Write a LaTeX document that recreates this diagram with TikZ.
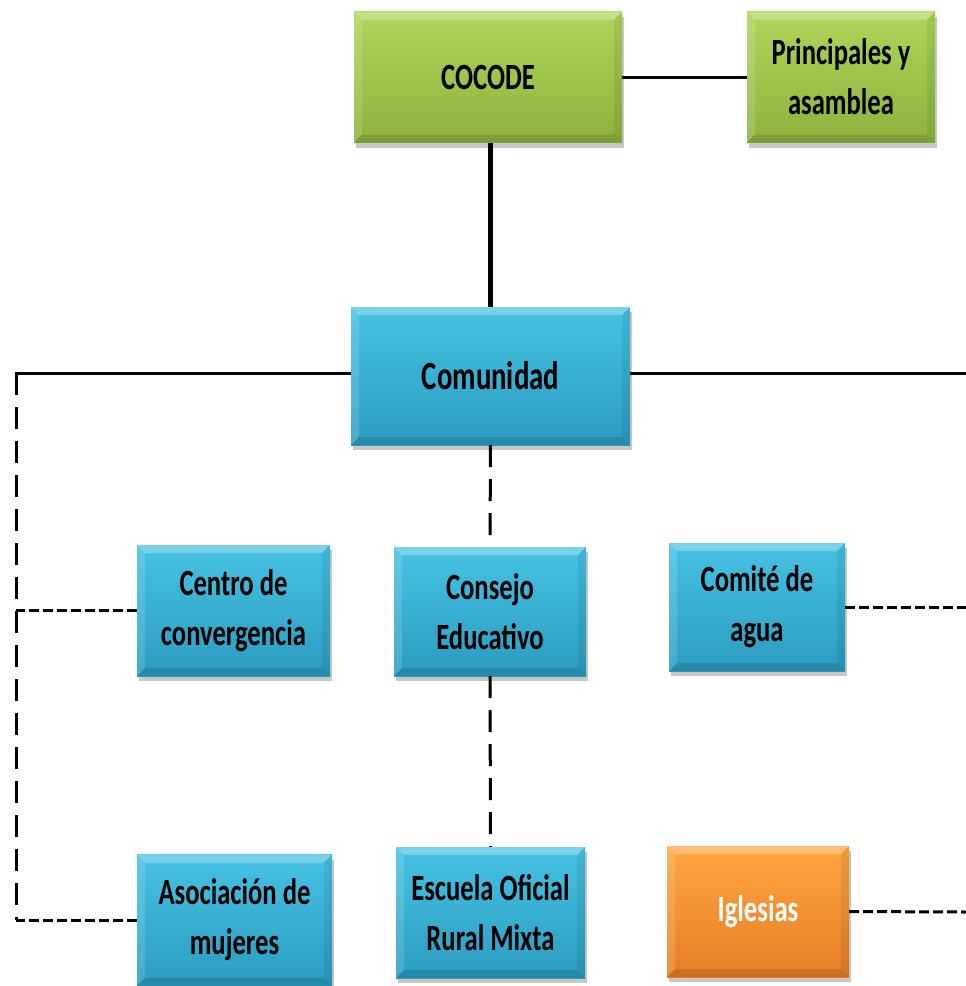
\documentclass[tikz,border=0pt]{standalone}
\usepackage{fontspec}
\setmainfont{Carlito}[FakeStretch=0.72]
\usetikzlibrary{shadows}
\definecolor{gtop}{HTML}{AED65A}
\definecolor{gbot}{HTML}{8CB23C}
\definecolor{btop}{HTML}{46C2E3}
\definecolor{bbot}{HTML}{2B9CC0}
\definecolor{otop}{HTML}{FFA640}
\definecolor{obot}{HTML}{E57E26}
\tikzset{
  x=1pt,y=1pt,
  box/.style={rectangle, align=center, inner sep=0pt,
    font=\fontsize{37}{50}\selectfont\bfseries,
    drop shadow={shadow xshift=2pt,shadow yshift=-5pt,opacity=0.22,fill=black},
    path picture={
      \fill[white,opacity=0.28] (path picture bounding box.north west) -- (path picture bounding box.north east)
        -- ([xshift=-8pt,yshift=-8pt]path picture bounding box.north east) -- ([xshift=8pt,yshift=-8pt]path picture bounding box.north west) -- cycle;
      \fill[white,opacity=0.14] (path picture bounding box.north west) -- ([xshift=8pt,yshift=-8pt]path picture bounding box.north west)
        -- ([xshift=8pt,yshift=8pt]path picture bounding box.south west) -- (path picture bounding box.south west) -- cycle;
      \fill[black,opacity=0.07] (path picture bounding box.north east) -- ([xshift=-8pt,yshift=-8pt]path picture bounding box.north east)
        -- ([xshift=-8pt,yshift=8pt]path picture bounding box.south east) -- (path picture bounding box.south east) -- cycle;
      \fill[black,opacity=0.12] (path picture bounding box.south west) -- (path picture bounding box.south east)
        -- ([xshift=-8pt,yshift=8pt]path picture bounding box.south east) -- ([xshift=8pt,yshift=8pt]path picture bounding box.south west) -- cycle;
    }},
  greenbox/.style={box, top color=gtop, bottom color=gbot},
  bluebox/.style={box, top color=btop, bottom color=bbot},
  orangebox/.style={box, top color=otop, bottom color=obot, text=white},
  solidline/.style={line width=3pt, black},
  thickline/.style={line width=5pt, black},
  hdash/.style={line width=3pt, black, dash pattern=on 10pt off 4pt},
  vdash/.style={line width=3pt, black, dash pattern=on 22pt off 12pt},
}
\begin{document}
\begin{tikzpicture}
\useasboundingbox[fill=white] (0,0) rectangle (966,-986);
\node[greenbox, minimum width=268pt, minimum height=131pt] (cocode) at (488,-77) {COCODE};
\node[greenbox, minimum width=188pt, minimum height=131pt] (princ) at (841,-77) {Principales y\\asamblea};
\node[bluebox, minimum width=279pt, minimum height=138pt, font=\fontsize{40}{50}\selectfont\bfseries] (com) at (490.5,-376) {Comunidad};
\node[bluebox, minimum width=193pt, minimum height=131pt] (centro) at (233.5,-610.5) {Centro de\\convergencia};
\node[bluebox, minimum width=192pt, minimum height=129pt] (consejo) at (490,-611.5) {Consejo\\Educativo};
\node[bluebox, minimum width=176pt, minimum height=128pt] (comite) at (757,-607) {Comité de\\agua};
\node[bluebox, minimum width=195pt, minimum height=131pt] (asoc) at (234.5,-920) {Asociación de\\mujeres};
\node[bluebox, minimum width=189pt, minimum height=131pt] (escuela) at (490.5,-912.5) {Escuela Oficial\\Rural Mixta};
\node[orangebox, minimum width=182pt, minimum height=131pt] (igl) at (758,-911.5) {Iglesias};

\coordinate (L) at (16,-373);
\coordinate (LB) at (16,-920);
\coordinate (R) at (966,-373);
\coordinate (RC) at (966,-607);
\coordinate (RI) at (966,-912);

\draw[solidline] (cocode.east) -- (princ.west);
\draw[thickline] (com.north |- cocode.south) -- (com.north);
\draw[solidline] (com.west |- L) -- ([xshift=-1.5pt]L);
\draw[solidline] (com.east |- R) -- (R);
\draw[vdash] (L) -- (LB);
\draw[hdash] (centro.west) -- (centro.west -| L);
\draw[hdash] (asoc.west) -- (LB);
\draw[vdash] (com.south) -- (consejo.north);
\draw[vdash] (consejo.south) -- (escuela.north);
\draw[hdash] (comite.east) -- (RC);
\draw[hdash] (igl.east) -- (RI);
\end{tikzpicture}
\end{document}
